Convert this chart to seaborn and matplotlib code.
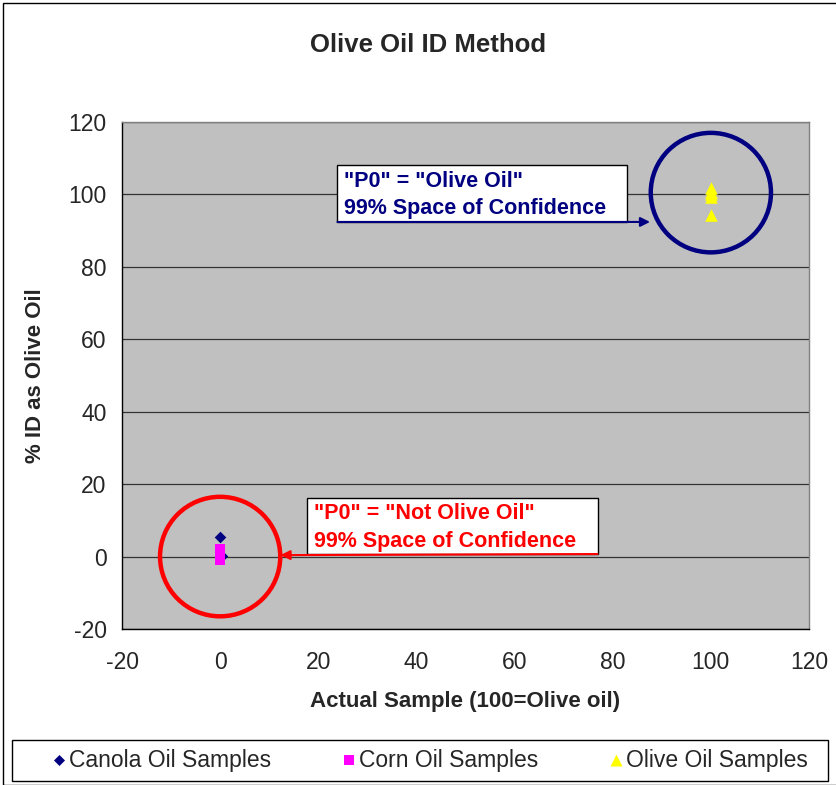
import matplotlib
matplotlib.use("Agg")
import matplotlib.pyplot as plt
import seaborn as sns
import pandas as pd
from matplotlib.patches import Ellipse, Rectangle

# ---- data ----
canola_x = [0, 0.4]
canola_y = [5.5, 0.2]
corn_x = [0, 0, 0, 0, 0]
corn_y = [2.0, 1.0, 0.0, -0.5, -1.0]
olive_x = [100, 100, 100, 100, 100]
olive_y = [101.8, 100.7, 100.0, 99.3, 94.2]
series_names = ["Canola Oil Samples", "Corn Oil Samples", "Olive Oil Samples"]
x_ticks = [-20, 0, 20, 40, 60, 80, 100, 120]
y_ticks = [-20, 0, 20, 40, 60, 80, 100, 120]

df = pd.DataFrame({
    "x": canola_x + corn_x + olive_x,
    "y": canola_y + corn_y + olive_y,
    "series": [series_names[0]] * len(canola_x) + [series_names[1]] * len(corn_x)
              + [series_names[2]] * len(olive_x),
})

sns.set_style("white")
plt.rcParams["font.family"] = ["Liberation Sans", "DejaVu Sans"]
plt.rcParams["axes.unicode_minus"] = False

W, H = 836, 785
fig = plt.figure(figsize=(W / 100, H / 100), dpi=100)
ax = fig.add_axes([122 / W, 1 - 629 / H, (809 - 122) / W, (629 - 122) / H])
ax.set_facecolor("#c0c0c0")

palette = {series_names[0]: "#000080", series_names[1]: "#ff00ff", series_names[2]: "#ffff00"}
markers = {series_names[0]: "D", series_names[1]: "s", series_names[2]: "^"}
sizes_map = {series_names[0]: 35, series_names[1]: 52, series_names[2]: 82}

for name in series_names:
    sub = df[df["series"] == name]
    sns.scatterplot(data=sub, x="x", y="y", ax=ax, color=palette[name],
                    marker=markers[name], s=sizes_map[name], linewidth=0,
                    label=name, zorder=5)

ax.set_xlim(-20, 120)
ax.set_ylim(-20, 120)
ax.set_xticks(x_ticks)
ax.set_yticks(y_ticks)
ax.tick_params(axis="both", labelsize=16.5, direction="out", length=6, width=1,
               color="black", pad=5)
ax.tick_params(axis="x", pad=10)
ax.yaxis.grid(True, color="#333333", linewidth=0.9)
ax.set_axisbelow(True)
for side in ["left", "bottom"]:
    ax.spines[side].set_color("black")
    ax.spines[side].set_linewidth(1)
for side in ["top", "right"]:
    ax.spines[side].set_color("#808080")
    ax.spines[side].set_linewidth(1)

ax.set_xlabel("Actual Sample (100=Olive oil)", fontsize=16, fontweight="bold", labelpad=12)
ax.set_ylabel("% ID as Olive Oil", fontsize=16, fontweight="bold", labelpad=16)
fig.text(428 / W, 1 - 45 / H, "Olive Oil ID Method", ha="center", va="center",
         fontsize=18.5, fontweight="bold")

# confidence circles
ax.add_patch(Ellipse((0, 0), 24.5, 33.0, fill=False, edgecolor="#ff0000", linewidth=3.2, zorder=6))
ax.add_patch(Ellipse((100, 100.5), 24.5, 33.0, fill=False, edgecolor="#000080", linewidth=3.2, zorder=6))

# annotation boxes
ax.add_patch(Rectangle((23.9, 92.4), 82.9 - 23.9, 108.1 - 92.4, facecolor="white",
                       edgecolor="black", linewidth=1, zorder=7))
ax.text(25.2, 103.6, '"P0" = "Olive Oil"', color="#000080", fontsize=15.5, fontweight="bold",
        va="center", ha="left", zorder=8)
ax.text(25.2, 96.0, "99% Space of Confidence", color="#000080", fontsize=15.5, fontweight="bold",
        va="center", ha="left", zorder=8)
ax.annotate("", xy=(87.6, 92.4), xytext=(23.9, 92.4), zorder=9,
            arrowprops=dict(arrowstyle="-|>", color="#000080", lw=1.5, mutation_scale=14,
                            shrinkA=0, shrinkB=0))

ax.add_patch(Rectangle((17.8, 0.7), 76.9 - 17.8, 16.2 - 0.7, facecolor="white",
                       edgecolor="black", linewidth=1, zorder=7))
ax.text(19.1, 11.8, '"P0" = "Not Olive Oil"', color="#ff0000", fontsize=15.5, fontweight="bold",
        va="center", ha="left", zorder=8)
ax.text(19.1, 4.2, "99% Space of Confidence", color="#ff0000", fontsize=15.5, fontweight="bold",
        va="center", ha="left", zorder=8)
ax.annotate("", xy=(12.3, 0.4), xytext=(76.9, 0.7), zorder=9,
            arrowprops=dict(arrowstyle="-|>", color="#ff0000", lw=1.5, mutation_scale=14,
                            shrinkA=0, shrinkB=0))

# legend
handles, labels = ax.get_legend_handles_labels()
ax.get_legend().remove()
fig.patches.append(Rectangle((12 / W, 1 - 781 / H), (828 - 12) / W, 41 / H,
                             transform=fig.transFigure, facecolor="white",
                             edgecolor="black", linewidth=1))
leg = fig.legend(handles, labels, loc="center", ncol=3,
                 bbox_to_anchor=(430 / W, 1 - 760 / H),
                 fontsize=16.5, frameon=False, borderaxespad=0,
                 handlelength=0.6, handletextpad=0.12, columnspacing=3.1,
                 markerscale=0.95)

# figure border
fig.patches.append(Rectangle((3 / W, 0), 1, 1 - 3 / H, transform=fig.transFigure,
                             fill=False, edgecolor="black", linewidth=1))

fig.savefig("out.png", dpi=100)
